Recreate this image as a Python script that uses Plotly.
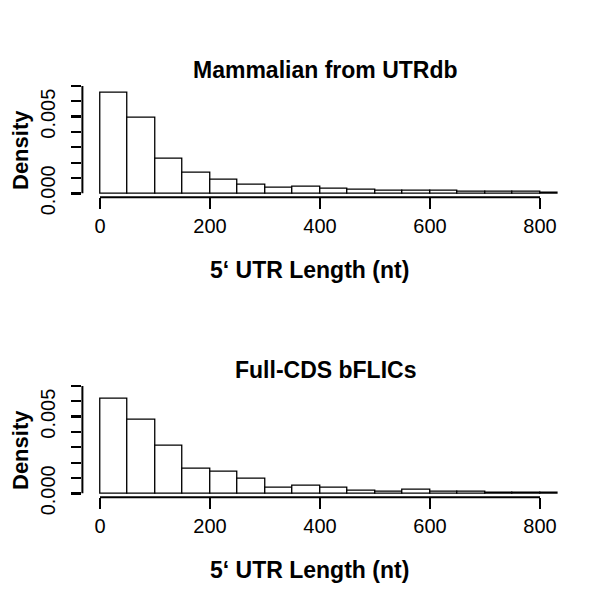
import plotly.graph_objects as go

# ---- data ----
bin_starts = [0, 50, 100, 150, 200, 250, 300, 350, 400, 450, 500, 550, 600, 650, 700, 750, 800]
bin_width = 50
utrdb_density = [0.00657, 0.00494, 0.00228, 0.00137, 0.00089, 0.00054, 0.00039, 0.00043,
                 0.00030, 0.00022, 0.00020, 0.00020, 0.00020, 0.00013, 0.00010, 0.00008, 0.00006]
bflic_density = [0.00616, 0.00483, 0.00311, 0.00159, 0.00141, 0.00093, 0.00039, 0.00050,
                 0.00035, 0.00015, 0.00010, 0.00024, 0.00010, 0.00008, 0.00004, 0.00003, 0.00002]
titles = ["Mammalian from UTRdb", "Full-CDS bFLICs"]
x_ticks = [0, 200, 400, 600, 800]
y_major = [0, 0.005]
y_major_text = ["0.000", "0.005"]
y_minor = [0.001, 0.002, 0.003, 0.004, 0.006, 0.007]
xlabel = "5\u2018 UTR Length (nt)"
ylabel = "Density"

W = H = 600
SHIFT = 8  # page body margin offset in the browser
FONT = "Liberation Sans, Arial, Helvetica, sans-serif"

def py(p):
    return 1 - (p - SHIFT) / H

def px(p):
    return (p - SHIFT) / W

centers = [s + bin_width / 2 for s in bin_starts]

fig = go.Figure()
panels = [utrdb_density, bflic_density]
offsets = [0, 300]
xr = [-32, 832]
yr = [-0.000263, 0.00702]
x_dom = [px(82.4), px(557.6)]

annotations = []
shapes = []
for i, (vals, off) in enumerate(zip(panels, offsets)):
    n = "" if i == 0 else str(i + 1)
    xa = "x" + n
    ya = "y" + n
    fig.add_trace(go.Bar(
        x=centers, y=vals, width=bin_width,
        marker=dict(color="white", line=dict(color="black", width=1.3)),
        xaxis=xa, yaxis=ya, showlegend=False, hoverinfo="skip"))
    bottom = 197.3 + off
    top = 85.7 + off
    fig.layout["xaxis" + n] = dict(
        domain=x_dom, range=xr, anchor=ya, showgrid=False, zeroline=False,
        automargin=False,
        showline=False, tickvals=x_ticks, ticks="outside", ticklen=11, tickwidth=2,
        tickcolor="black", tickfont=dict(family=FONT, size=20, color="black"))
    fig.layout["yaxis" + n] = dict(
        domain=[py(bottom), py(top)], range=yr, anchor=xa, showgrid=False,
        automargin=False,
        zeroline=False, showline=False, tickvals=y_major, ticktext=y_major_text,
        ticks="outside", ticklen=10, tickwidth=2.5, tickcolor="black", tickangle=-90,
        ticklabelstandoff=8,
        tickfont=dict(family=FONT, size=20, color="black"),
        minor=dict(tickvals=y_minor, ticks="outside", ticklen=10, tickwidth=1.5,
                   tickcolor="black"))
    # axis lines (R style: from first to last tick)
    shapes.append(dict(type="line", xref=xa, yref=ya + " domain", x0=x_ticks[0], x1=x_ticks[-1],
                       y0=0, y1=0, line=dict(color="black", width=2)))
    shapes.append(dict(type="line", xref=xa + " domain", yref=ya, x0=0, x1=0,
                       y0=0, y1=y_minor[-1], line=dict(color="black", width=2)))
    annotations.append(dict(text="<b>%s</b>" % titles[i], xref="paper", yref="paper",
                            x=px(325), y=py(70 + off), showarrow=False,
                            xanchor="center", yanchor="middle",
                            font=dict(family=FONT, size=23, color="black")))
    annotations.append(dict(text="<b>%s</b>" % xlabel, xref="paper", yref="paper",
                            x=px(309), y=py(270 + off), showarrow=False,
                            xanchor="center", yanchor="middle",
                            font=dict(family=FONT, size=23, color="black")))
    annotations.append(dict(text="<b>%s</b>" % ylabel, xref="paper", yref="paper",
                            x=px(20), y=py(150 + off), showarrow=False, textangle=-90,
                            xanchor="center", yanchor="middle",
                            font=dict(family=FONT, size=22, color="black")))

fig.update_layout(template="none", width=W, height=H,
                  margin=dict(l=0, r=0, t=0, b=0, pad=0, autoexpand=False),
                  paper_bgcolor="white", plot_bgcolor="white", bargap=0,
                  annotations=annotations, shapes=shapes)
fig.write_html("out.html")
